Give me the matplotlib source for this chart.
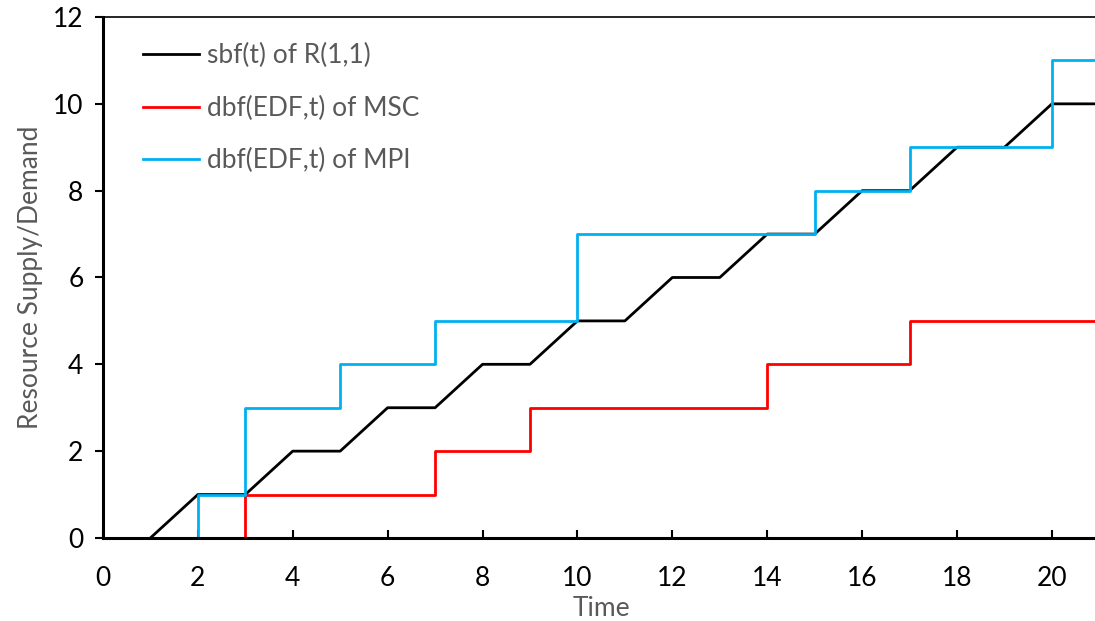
import matplotlib
matplotlib.use('Agg')
from matplotlib import pyplot as plt

# data
sbf_t = [1, 2, 3, 4, 5, 6, 7, 8, 9, 10, 11, 12, 13, 14, 15, 16, 17, 18, 19, 20, 21]
sbf_v = [0, 1, 1, 2, 2, 3, 3, 4, 4, 5, 5, 6, 6, 7, 7, 8, 8, 9, 9, 10, 10]

msc_t = [3, 3, 7, 9, 14, 17, 21]
msc_v = [0, 1, 2, 3, 4, 5, 5]

mpi_t = [2, 2, 3, 5, 7, 10, 15, 17, 20, 21]
mpi_v = [0, 1, 3, 4, 5, 7, 8, 9, 11, 11]

xticks = [0, 2, 4, 6, 8, 10, 12, 14, 16, 18, 20]
yticks = [0, 2, 4, 6, 8, 10, 12]

plt.rcParams['font.family'] = ['Lato', 'DejaVu Sans']
gray = '#595959'
fs = 19

fig = plt.figure(figsize=(10.95, 6.21), dpi=100)
ax = fig.add_axes([0.094, 0.1337, 0.91, 0.8389])

ax.plot(sbf_t, sbf_v, color='black', lw=2.0, label='sbf(t) of R(1,1)')
ax.plot(msc_t, msc_v, color='#FF0000', lw=2.0, drawstyle='steps-post', label='dbf(EDF,t) of MSC')
ax.plot(mpi_t, mpi_v, color='#00B0F0', lw=2.0, drawstyle='steps-post', label='dbf(EDF,t) of MPI')

ax.set_xlim(0, 21)
ax.set_ylim(0, 12)
ax.set_xticks(xticks)
ax.set_yticks(yticks)
ax.tick_params(axis='x', direction='in', length=6, width=1.5, labelsize=fs, pad=20)
ax.tick_params(axis='y', direction='out', length=6, width=1.5, labelsize=fs, pad=8)

ax.spines['left'].set_linewidth(2.2)
ax.spines['bottom'].set_linewidth(2.2)
ax.spines['top'].set_linewidth(1.2)
ax.spines['right'].set_visible(False)

ax.set_xlabel('Time', fontsize=fs, color=gray, labelpad=4)
ax.set_ylabel('Resource Supply/Demand', fontsize=fs, color=gray, labelpad=7)

leg = ax.legend(loc='upper left', bbox_to_anchor=(0.016, 0.995), frameon=False,
                fontsize=fs, handlelength=2.15, handletextpad=0.3, labelspacing=1.03)
for t in leg.get_texts():
    t.set_color(gray)

fig.savefig('out.png', dpi=100)
